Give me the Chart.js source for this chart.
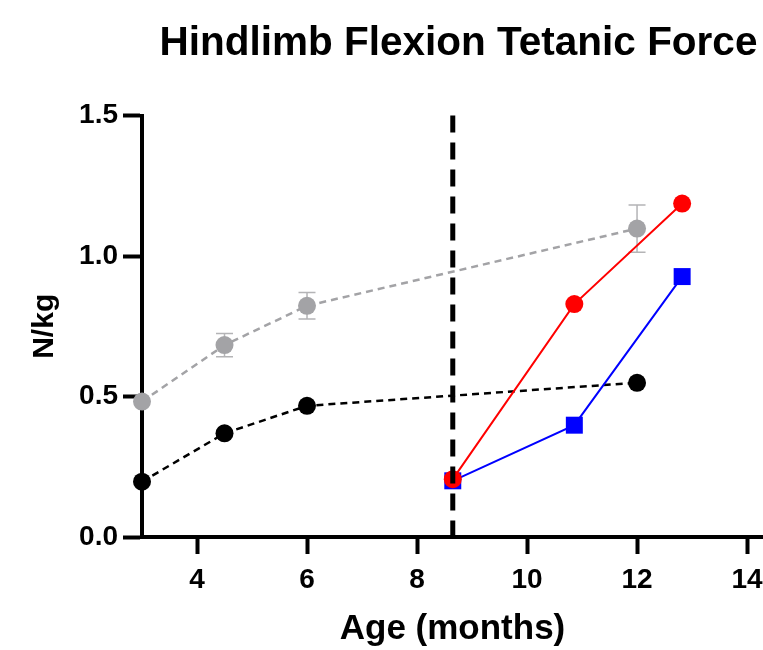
<!DOCTYPE html>
<html>
<head>
<meta charset="utf-8">
<script src="https://cdn.jsdelivr.net/npm/chart.js@4.4.1/dist/chart.umd.min.js"></script>
<style>
  html, body { margin: 0; padding: 0; background: #fff; }
  #wrap { width: 763px; height: 650px; }
</style>
</head>
<body>
<div id="wrap"><canvas id="chart"></canvas></div>
<script>
    // Data
    var ageControl = [3, 4.5, 6, 12];
    var grayMean = [0.482, 0.683, 0.823, 1.098];
    var graySem = [0, 0.041, 0.047, 0.084];
    var blackMean = [0.197, 0.369, 0.467, 0.549];

    var ageTreated = [8.65, 10.86, 12.82];
    var redMean = [0.206, 0.829, 1.187];
    var blueMean = [0.2, 0.398, 0.927];

    var treatmentAge = 8.65;
    var xTicks = [4, 6, 8, 10, 12, 14];
    var yTicks = [0, 0.5, 1.0, 1.5];

    var FONT = "'Liberation Sans', Arial, Helvetica, sans-serif";

    function pts(xs, ys) {
        return xs.map(function (x, i) { return { x: x, y: ys[i] }; });
    }

    // Error bars (SEM) for the gray series, drawn under the points
    var errorBars = {
        id: 'errorBars',
        beforeDatasetsDraw: function (chart) {
            var ctx = chart.ctx;
            var xs = chart.scales.x, ys = chart.scales.y;
            ctx.save();
            ctx.strokeStyle = '#b4b4b6';
            ctx.lineWidth = 1.5;
            for (var i = 0; i < ageControl.length; i++) {
                if (!graySem[i]) continue;
                var px = xs.getPixelForValue(ageControl[i]);
                var top = ys.getPixelForValue(grayMean[i] + graySem[i]);
                var bot = ys.getPixelForValue(grayMean[i] - graySem[i]);
                ctx.beginPath();
                ctx.moveTo(px, top); ctx.lineTo(px, bot);
                ctx.moveTo(px - 8.5, top); ctx.lineTo(px + 8.5, top);
                ctx.moveTo(px - 8.5, bot); ctx.lineTo(px + 8.5, bot);
                ctx.stroke();
            }
            ctx.restore();
        }
    };

    // nudge the title a little to the right, like the original
    var titleShift = {
        id: 'titleShift',
        afterLayout: function (chart) {
            if (chart.titleBlock) {
                chart.titleBlock.left += 6;
                chart.titleBlock.right += 6;
            }
        }
    };

    var ctx = document.getElementById('chart').getContext('2d');
    var myChart = new Chart(ctx, {
        type: 'line',
        data: {
            datasets: [{
                label: 'treatment',
                data: [{ x: treatmentAge, y: yTicks[yTicks.length - 1] }, { x: treatmentAge, y: 0 }],
                borderColor: '#000',
                borderWidth: 5,
                borderDash: [17, 10],
                pointRadius: 0,
                order: 0
            }, {
                label: 'red',
                data: pts(ageTreated, redMean),
                borderColor: '#ff0000',
                backgroundColor: '#ff0000',
                borderWidth: 2,
                pointRadius: 9,
                pointBorderWidth: 0,
                order: 1
            }, {
                label: 'blue',
                data: pts(ageTreated, blueMean),
                borderColor: '#0000ff',
                backgroundColor: '#0000ff',
                borderWidth: 2,
                pointStyle: 'rect',
                pointRadius: 12,
                pointBorderWidth: 0,
                order: 2
            }, {
                label: 'gray',
                data: pts(ageControl, grayMean),
                borderColor: '#a3a3a6',
                backgroundColor: '#a3a3a6',
                borderWidth: 2.5,
                borderDash: [7, 5],
                pointRadius: 9,
                pointBorderWidth: 0,
                order: 3
            }, {
                label: 'black',
                data: pts(ageControl, blackMean),
                borderColor: '#000',
                backgroundColor: '#000',
                borderWidth: 2.5,
                borderDash: [7, 5],
                pointRadius: 9,
                pointBorderWidth: 0,
                order: 4
            }]
        },
        options: {
            responsive: true,
            maintainAspectRatio: false,
            animation: false,
            clip: false,
            layout: { autoPadding: false, padding: { left: 0, right: 0, top: 0, bottom: 0 } },
            plugins: {
                legend: { display: false },
                tooltip: { enabled: false },
                title: {
                    display: true,
                    fullSize: false,
                    text: 'Hindlimb Flexion Tetanic Force',
                    color: '#000',
                    font: { family: FONT, size: 40.5, weight: 'bold', lineHeight: 1.2 },
                    padding: { top: 20, bottom: 47 }
                }
            },
            scales: {
                x: {
                    type: 'linear',
                    min: 3,
                    max: 14.29,
                    afterBuildTicks: function (s) { s.ticks = xTicks.map(function (v) { return { value: v }; }); },
                    afterFit: function (s) { s.height = 113; s.paddingLeft = 0; s.paddingRight = 0; },
                    border: { display: true, color: '#000', width: 4 },
                    grid: { drawOnChartArea: false, drawTicks: true, tickLength: 17, tickWidth: 4, tickColor: '#000' },
                    ticks: {
                        color: '#000',
                        padding: 9,
                        maxRotation: 0,
                        font: { family: FONT, size: 28, weight: 'bold' }
                    },
                    title: {
                        display: true,
                        text: 'Age (months)',
                        color: '#000',
                        font: { family: FONT, size: 35, weight: 'bold' },
                        padding: { top: 4, bottom: 0 }
                    }
                },
                y: {
                    type: 'linear',
                    min: 0,
                    max: 1.5,
                    afterBuildTicks: function (s) { s.ticks = yTicks.map(function (v) { return { value: v }; }); },
                    afterFit: function (s) { s.width = 142; },
                    border: { display: true, color: '#000', width: 4 },
                    grid: { drawOnChartArea: false, drawTicks: true, tickLength: 19, tickWidth: 4, tickColor: '#000' },
                    ticks: {
                        color: '#000',
                        padding: 5,
                        font: { family: FONT, size: 28, weight: 'bold' },
                        callback: function (v) { return v.toFixed(1); }
                    },
                    title: {
                        display: true,
                        text: 'N/kg',
                        color: '#000',
                        font: { family: FONT, size: 30, weight: 'bold' },
                        padding: { top: 27, bottom: 0 }
                    }
                }
            }
        },
        plugins: [errorBars, titleShift]
    });
</script>
</body>
</html>
